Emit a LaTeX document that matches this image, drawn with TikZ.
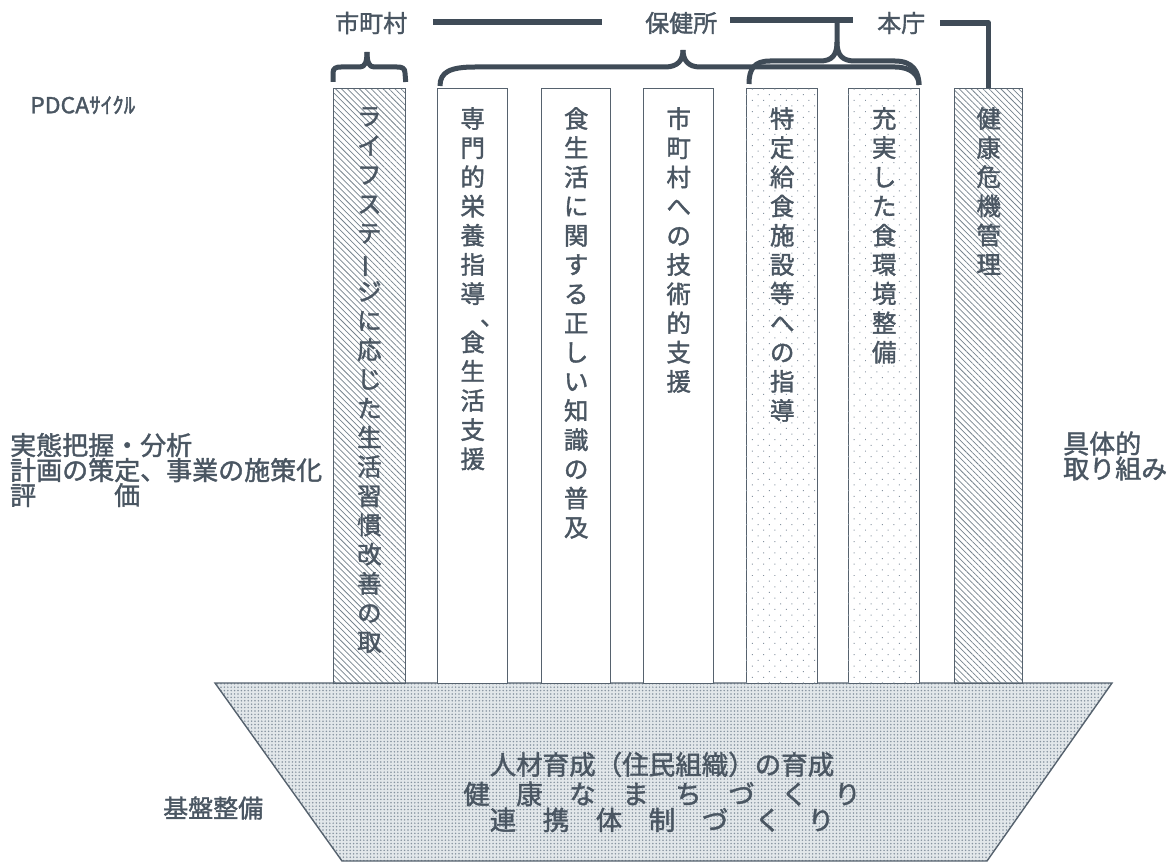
\documentclass[tikz,border=0pt]{standalone}
\usepackage{fontspec}
\setmainfont{Noto Sans CJK JP}[FakeBold=1.5]
\usetikzlibrary{patterns.meta}
\definecolor{ink}{HTML}{4A5662}
\definecolor{edge}{HTML}{56626E}
\definecolor{bar}{HTML}{3F4B57}
\definecolor{hatch}{HTML}{76838D}
\definecolor{dotc}{HTML}{8693A0}
\definecolor{basefill}{HTML}{E2E7EA}
\newcommand{\vbar}{\makebox[1em]{\rotatebox[origin=c]{90}{ー}}}
\newcommand{\vcomma}{\makebox[1em][l]{\hspace*{0.8em}、}}
\begin{document}
\begin{tikzpicture}[x=1pt,y=-1pt,
  colbox/.style={draw=edge, line width=1.4pt, minimum height=595pt, inner sep=0pt, anchor=north west},
  hatchfill/.style={pattern={Lines[angle=-45, distance=4.2pt, line width=0.75pt]}, pattern color=hatch},
  dotfill/.style={pattern={Dots[angle=45, distance=8pt, radius=0.7pt]}, pattern color=dotc},
  vtext/.style={font=\fontsize{24.5}{29.2}\selectfont, align=center, inner sep=0pt, text=ink, anchor=north},
  lbl/.style={font=\fontsize{24}{25}\selectfont, inner sep=0pt, text=ink},
  side/.style={font=\fontsize{26}{25}\selectfont, inner sep=0pt, text=ink, align=left, anchor=west},
  heavy/.style={draw=bar, line width=5.5pt, line join=round},
  brace/.style={draw=bar, line width=5pt, line join=round}
]
\path[use as bounding box] (0,0) rectangle (1170,864);

% base trapezoid
\path[fill=basefill] (215,683) -- (1112,683) -- (987,861) -- (342,861) -- cycle;
\path[pattern={Dots[distance=3.4pt, radius=0.85pt]}, pattern color=dotc] (215,683) -- (1112,683) -- (987,861) -- (342,861) -- cycle;
\draw[edge, line width=1.4pt] (215,683) -- (1112,683) -- (987,861) -- (342,861) -- cycle;
\node[font=\fontsize{26.5}{29}\selectfont, text=ink, inner sep=0pt, align=center] (base) at (662,792)
  {人材育成（住民組織）の育成\\[0.4pt]健　康　な　ま　ち　づ　く　り\\[-3pt]連　携　体　制　づ　く　り};

% columns
\node[colbox, hatchfill, minimum width=72pt] (c1) at (333,88) {};
\node[colbox, fill=white, minimum width=70pt] (c2) at (437,88) {};
\node[colbox, fill=white, minimum width=69pt] (c3) at (541,88) {};
\node[colbox, fill=white, minimum width=70pt] (c4) at (643,88) {};
\node[colbox, fill=white, minimum width=71pt] (c5) at (746,88) {};
\path[dotfill] (c5.north west) rectangle (c5.south east);
\node[colbox, fill=white, minimum width=71pt] (c6) at (848,88) {};
\path[dotfill] (c6.north west) rectangle (c6.south east);
\node[colbox, hatchfill, minimum width=68pt] (c7) at (954,88) {};

\node[vtext] (t1) at ([yshift=-19pt]c1.north) {ラ\\イ\\フ\\ス\\テ\\\vbar\\ジ\\に\\応\\じ\\た\\生\\活\\習\\慣\\改\\善\\の\\取};
\node[vtext] (t2) at ([yshift=-19pt]c2.north) {専\\門\\的\\栄\\養\\指\\導\\[-7pt]\vcomma\\[-3pt]食\\生\\活\\支\\援};
\node[vtext] (t3) at ([yshift=-19pt]c3.north) {食\\生\\活\\に\\関\\す\\る\\正\\し\\い\\知\\識\\の\\普\\及};
\node[vtext] (t4) at ([yshift=-19pt]c4.north) {市\\町\\村\\へ\\の\\技\\術\\的\\支\\援};
\node[vtext] (t5) at ([yshift=-19pt]c5.north) {特\\定\\給\\食\\施\\設\\等\\へ\\の\\指\\導};
\node[vtext] (t6) at ([yshift=-19pt]c6.north) {充\\実\\し\\た\\食\\環\\境\\整\\備};
\node[vtext] (t7) at ([yshift=-19pt]c7.north) {健\\康\\危\\機\\管\\理};

% top labels
\node[lbl, anchor=west] (m) at (335,23) {市町村};
\node[lbl, anchor=west] (h) at (645,23) {保健所};
\node[lbl, anchor=west] (p) at (877,23) {本庁};
\draw[heavy] ([xshift=26pt,yshift=1pt]m.east) -- ([xshift=-43pt,yshift=1pt]h.west);
\draw[heavy] ([xshift=13pt,yshift=3pt]h.east) -- ([xshift=136pt,yshift=3pt]h.east);
\draw[heavy] ([xshift=15pt]p.east) -| (c7.north);

% braces
\draw[brace] (c1.north west) ++(0,-6) -- (333,73) .. controls (333,68) and (336,67) .. (341,67) -- (360,67) .. controls (365,67) and (367,62) .. (367,52);
\draw[brace] (c1.north east) ++(0,-6) -- (405,73) .. controls (405,68) and (402,67) .. (397,67) -- (374,67) .. controls (369,67) and (367,62) .. (367,52);
\draw[brace] (c2.north west) ++(3,-2) .. controls (440,72) and (450,67) .. (475,67) -- (665,67) .. controls (678,67) and (683,60) .. (683,50);
\draw[brace] (683,50) .. controls (683,60) and (688,67) .. (700,67) -- (895,67) .. controls (912,67) and (919,76) .. (919,85);
\draw[brace] (c5.north west) ++(3,-4) .. controls (749,68) and (755,61) .. (770,61) -- (820,61) .. controls (832,61) and (837,55) .. (837,42) -- (837,21);
\draw[brace] (837,42) .. controls (837,55) and (842,61) .. (855,61) -- (895,61) .. controls (913,61) and (919,72) .. (919,85);

% side labels
\node[font=\fontsize{20}{20}\selectfont, text=ink, inner sep=0pt, anchor=west] (pdca) at (30,105) {\scalebox{1.15}[1.1]{PDCAｻｲｸﾙ}};
\node[side] (left) at (10,470) {実態把握・分析\\計画の策定、事業の施策化\\評　　　価};
\node[side] (right) at (1063,456) {具体的\\取り組み};
\node[side, font=\fontsize{25}{25}\selectfont] (kiban) at (163,808) {基盤整備};
\end{tikzpicture}
\end{document}
